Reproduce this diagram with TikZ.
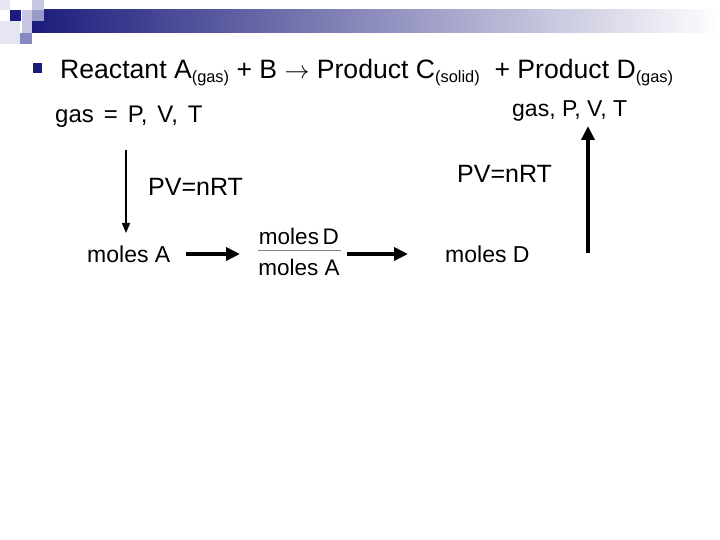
\documentclass[tikz,border=0pt]{standalone}
\usepackage{fontspec}
\setmainfont{Liberation Sans}
\usetikzlibrary{arrows.meta}
\definecolor{navy}{HTML}{1C1C7C}
\definecolor{sqA}{HTML}{E6E6F2}
\definecolor{sqB}{HTML}{C8C8E4}
\definecolor{sqC}{HTML}{9A9AC8}
\definecolor{sqD}{HTML}{8888C0}
\definecolor{fracline}{HTML}{808080}
\newcommand\gsub[1]{\raisebox{-4pt}{\fontsize{16.4}{18}\selectfont #1}}
\newcommand\wsp{\hspace{10pt}}
\tikzset{
  lbl/.style={anchor=base west, inner sep=0pt, font=\fontsize{23}{27}\selectfont},
  pvlbl/.style={anchor=base west, inner sep=0pt, font=\fontsize{25}{29}\selectfont},
  fraclbl/.style={anchor=base, inner sep=0pt, font=\fontsize{22.5}{26}\selectfont},
  thickarrow/.style={line width=4pt, -{Triangle[length=14pt,width=13pt]}},
  thinarrow/.style={line width=1.6pt, -{Triangle[length=10pt,width=8pt]}}
}
\begin{document}
\begin{tikzpicture}[x=1pt,y=-1pt]
\useasboundingbox[fill=white] (0,0) rectangle (720,540);
% header bar and logo
\shade[left color=navy, right color=white] (32,10) rectangle (720,33);
\fill[sqA] (0,0) rectangle (10,10);
\fill[sqA] (0,21) rectangle (20,44);
\fill[navy] (10,10) rectangle (21,21);
\fill[sqB] (22,10) rectangle (32,21);
\fill[sqB] (32,0) rectangle (44,10);
\fill[sqC] (32,10) rectangle (44,21);
\fill[sqB] (22,21) rectangle (32,33);
\fill[sqD] (20,33) rectangle (32,44);
% bullet
\fill[navy] (33,63) rectangle (42,73);
% title
\node[anchor=base west, inner sep=0pt, font=\fontsize{26.6}{30}\selectfont] (title) at (60,79)
  {Reactant A\gsub{(gas)} + B $\rightarrow$\ Product C\gsub{(solid)}\ \ + Product D\gsub{(gas)}};
% labels
\node[lbl, font=\fontsize{24}{28}\selectfont] (gasL) at (55,123) {gas\wsp=\wsp P,\wsp V,\wsp T};
\node[lbl] (gasR) at (512,117) {gas, P, V, T};
\node[pvlbl] (pvL) at (148,196) {PV=nRT};
\node[pvlbl] (pvR) at (457,183) {PV=nRT};
\node[lbl] (molA) at (87,262) {moles A};
\node[lbl] (molD) at (445,262) {moles D};
% fraction
\node[fraclbl] (fnum) at (299,244) {moles\,D};
\node[fraclbl] (fden) at (299,275) {moles A};
\draw[fracline, line width=0.8pt] (258,250) -- (341,250);
% connectors
\coordinate (dtop) at (126,150);
\coordinate (dbot) at (126,233);
\draw[thinarrow] (dtop) -- (dbot);
\coordinate (a1s) at (186,254);
\coordinate (a1e) at (240,254);
\draw[thickarrow] (a1s) -- (a1e);
\coordinate (a2s) at (347,254);
\coordinate (a2e) at (408,254);
\draw[thickarrow] (a2s) -- (a2e);
\coordinate (ubot) at (588,253);
\coordinate (utop) at (588,126);
\draw[thickarrow] (ubot) -- (utop);
\end{tikzpicture}
\end{document}
